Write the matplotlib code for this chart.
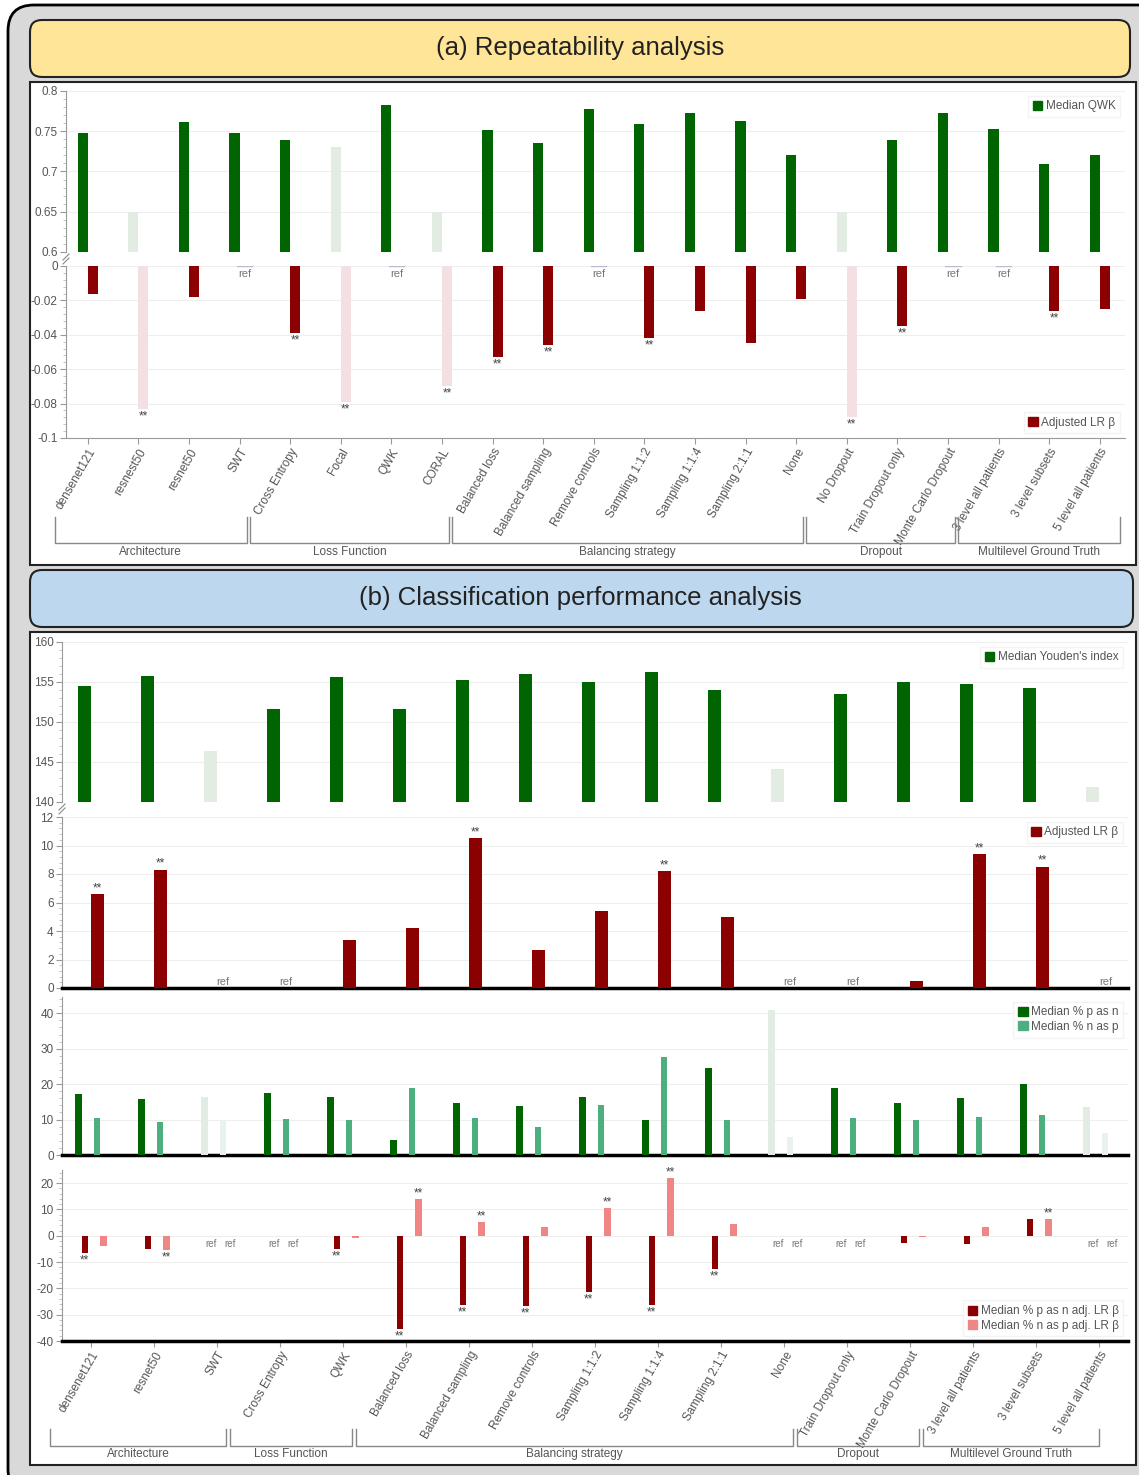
import matplotlib.pyplot as plt
from matplotlib.patches import FancyBboxPatch, Rectangle, Patch
from matplotlib.lines import Line2D
from matplotlib.ticker import AutoMinorLocator, FixedLocator, FuncFormatter
from matplotlib.transforms import IdentityTransform

plt.rcParams['font.family'] = ['Liberation Sans', 'DejaVu Sans']

W, H = 1139, 1475
GREY = '#555555'

# ---------------- (a) repeatability analysis ----------------
cats_a = ["densenet121", "resnest50", "resnet50", "SWT", "Cross Entropy", "Focal", "QWK",
          "CORAL", "Balanced loss", "Balanced sampling", "Remove controls", "Sampling 1:1:2",
          "Sampling 1:1:4", "Sampling 2:1:1", "None", "No Dropout", "Train Dropout only",
          "Monte Carlo Dropout", "3 level all patients", "3 level subsets",
          "5 level all patients"]
qwk_median = [0.748, 0.650, 0.761, 0.748, 0.739, 0.730, 0.783, 0.650, 0.752, 0.736, 0.778,
              0.759, 0.773, 0.763, 0.721, 0.650, 0.739, 0.773, 0.753, 0.709, 0.721]
qwk_beta = [-0.016, -0.083, -0.018, None, -0.039, -0.079, None, -0.070, -0.053, -0.046, None,
            -0.042, -0.026, -0.045, -0.019, -0.088, -0.035, None, None, -0.026, -0.025]
qwk_sig = [0, 1, 0, 0, 1, 1, 0, 1, 1, 1, 0, 1, 0, 0, 0, 1, 1, 0, 0, 1, 0]
faded_a = [0, 1, 0, 0, 0, 1, 0, 1, 0, 0, 0, 0, 0, 0, 0, 1, 0, 0, 0, 0, 0]
groups_a = [("Architecture", 0, 3), ("Loss Function", 4, 7), ("Balancing strategy", 8, 14),
            ("Dropout", 15, 17), ("Multilevel Ground Truth", 18, 20)]

# ---------------- (b) classification performance ----------------
cats_b = ["densenet121", "resnet50", "SWT", "Cross Entropy", "QWK", "Balanced loss",
          "Balanced sampling", "Remove controls", "Sampling 1:1:2", "Sampling 1:1:4",
          "Sampling 2:1:1", "None", "Train Dropout only", "Monte Carlo Dropout",
          "3 level all patients", "3 level subsets", "5 level all patients"]
youden = [154.5, 155.75, 146.4, 151.6, 155.6, 151.6, 155.3, 156.0, 155.0, 156.25, 154.0,
          144.1, 153.5, 155.0, 154.75, 154.25, 141.9]
youden_beta = [6.6, 8.3, None, None, 3.4, 4.2, 10.5, 2.7, 5.4, 8.2, 5.0, None, None, 0.5,
               9.4, 8.5, None]
youden_sig = [1, 1, 0, 0, 0, 0, 1, 0, 0, 1, 0, 0, 0, 0, 1, 1, 0]
faded_b = [0, 0, 1, 0, 0, 0, 0, 0, 0, 0, 0, 1, 0, 0, 0, 0, 1]
p_as_n = [17.1, 15.8, 16.5, 17.5, 16.5, 4.3, 14.6, 13.9, 16.5, 10.0, 24.5, 40.8, 19.0, 14.6,
          16.0, 20.1, 13.6]
n_as_p = [10.4, 9.4, 9.9, 10.3, 9.9, 19.0, 10.4, 7.8, 14.1, 27.6, 9.8, 5.1, 10.4, 9.8, 10.8,
          11.2, 6.3]
p_as_n_beta = [-6.7, -4.9, None, None, -4.9, -35.5, -26.5, -26.7, -21.3, -26.5, -12.8, None,
               None, -2.7, -3.2, 6.3, None]
n_as_p_beta = [-3.7, -5.4, None, None, -1.0, 13.9, 5.1, 3.2, 10.4, 21.8, 4.4, None, None,
               -0.6, 3.2, 6.3, None]
p_as_n_sig = [1, 0, 0, 0, 1, 1, 1, 1, 1, 1, 1, 0, 0, 0, 0, 0, 0]
n_as_p_sig = [0, 1, 0, 0, 0, 1, 1, 0, 1, 1, 0, 0, 0, 0, 0, 1, 0]
groups_b = [("Architecture", 0, 2), ("Loss Function", 3, 4), ("Balancing strategy", 5, 11),
            ("Dropout", 12, 13), ("Multilevel Ground Truth", 14, 16)]

DGREEN, DGREEN_F = '#006400', '#e2ece2'
LGREEN, LGREEN_F = '#4caf7d', '#e8f3ed'
DRED, DRED_F = '#8b0000', '#f4e0e2'
LRED = '#f08585'


def px_rect(l, t, r, b):
    return [l / W, 1 - b / H, (r - l) / W, (b - t) / H]


def style(ax, ticks, xlim, bottom_black=False):
    for s in ('top', 'right', 'bottom'):
        ax.spines[s].set_visible(False)
    ax.spines['left'].set_color('#999999')
    ax.spines['left'].set_linewidth(0.8)
    if bottom_black:
        ax.spines['bottom'].set_visible(True)
        ax.spines['bottom'].set_color('black')
        ax.spines['bottom'].set_linewidth(2.5)
    ax.yaxis.set_major_locator(FixedLocator(ticks))
    ax.yaxis.set_major_formatter(FuncFormatter(lambda v, p: f'{round(v, 4):g}'))
    ax.yaxis.set_minor_locator(AutoMinorLocator(5))
    ax.tick_params(axis='y', which='major', length=4, color='#999999', labelsize=8.5,
                   labelcolor=GREY, pad=2)
    ax.tick_params(axis='y', which='minor', length=2, color='#bbbbbb')
    ax.tick_params(axis='x', bottom=False, labelbottom=False)
    ax.grid(axis='y', color='#eeeeee', lw=0.8)
    ax.set_axisbelow(True)
    ax.set_xlim(*xlim)
    ax.set_facecolor('none')


def draw(ax, vals, off, width, color, pale, faded, sig, base=0.0, ref_up=False, fs=8):
    for i, v in enumerate(vals):
        x = i + off
        if v is None:
            ax.annotate('ref', (x, 0), xytext=(0, 1 if ref_up else -2),
                        textcoords='offset points', ha='center',
                        va='bottom' if ref_up else 'top', fontsize=fs, color='#777777')
            continue
        c = pale if faded[i] else color
        ax.bar(x, v - base, bottom=base, width=width, color=c, zorder=3)
        if sig[i]:
            up = v > 0 and base == 0
            ax.annotate('**', (x, v), xytext=(0, 0 if up else -1), textcoords='offset points',
                        ha='center', va='bottom' if up else 'top', fontsize=8.5,
                        color='#444444')


def legend(ax, items, loc):
    handles = [Patch(color=c, label=l) for l, c in items]
    lg = ax.legend(handles=handles, loc=loc, fontsize=8.5, frameon=True, handlelength=0.8,
                   handleheight=0.8, handletextpad=0.3, borderaxespad=0.4, labelspacing=0.2,
                   fancybox=False)
    lg.get_frame().set_edgecolor('#f0f0f0')
    for t in lg.get_texts():
        t.set_color(GREY)


def brackets(ax, groups, y0, y1, yt, right_pad):
    tr = ax.get_xaxis_transform()
    n = len(groups)
    for k, (name, a, b) in enumerate(groups):
        left = a - 0.65 if k == 0 else (a + groups[k - 1][2]) / 2 - 0.3
        right = b + right_pad if k == n - 1 else (b + groups[k + 1][1]) / 2 - 0.36
        ax.plot([left, left, right, right], [y0, y1, y1, y0], color='#888888', lw=1,
                transform=tr, clip_on=False)
        ax.text((left + right) / 2, yt, name, transform=tr, ha='center', va='center',
                fontsize=8.5, color=GREY)


def brk(fig, x, y):
    for dy in (-2, 2):
        fig.add_artist(Line2D([(x - 3) / W, (x + 3) / W],
                              [1 - (y + dy + 3) / H, 1 - (y + dy - 3) / H],
                              color='#888888', lw=0.8, zorder=5))


fig = plt.figure(figsize=(W / 100, H / 100), dpi=100)
idt = IdentityTransform()

# frame and panel boxes (pixel coordinates, origin bottom-left), kept behind the axes
fig.add_artist(FancyBboxPatch((8, -20), 1160, H - 5 + 20, boxstyle='round,pad=0,rounding_size=26',
                              fc='#d9d9d9', ec='black', lw=2, transform=idt, zorder=-3))
fig.add_artist(FancyBboxPatch((30, H - 77), 1100, 57, boxstyle='round,pad=0,rounding_size=12',
                              fc='#ffe597', ec='#222222', lw=1.5, transform=idt, zorder=-2))
fig.add_artist(Rectangle((30, H - 565), 1106, 483, fc='white', ec='#222222', lw=1.5,
                         transform=idt, zorder=-2))
fig.add_artist(FancyBboxPatch((30, H - 627), 1103, 57, boxstyle='round,pad=0,rounding_size=12',
                              fc='#bdd7ee', ec='#222222', lw=1.5, transform=idt, zorder=-2))
fig.add_artist(Rectangle((30, H - 1465), 1106, 833, fc='white', ec='#222222', lw=1.5,
                         transform=idt, zorder=-2))
fig.text(580 / W, 1 - 48 / H, '(a) Repeatability analysis', ha='center', va='center',
         fontsize=18.5, color='#222222')
fig.text(580 / W, 1 - 598 / H, '(b) Classification performance analysis', ha='center',
         va='center', fontsize=18.5, color='#222222')

# ---- panel (a)
xa = (-0.43, 20.5)
a1 = fig.add_axes(px_rect(66, 91, 1125, 252))
style(a1, [0.6, 0.65, 0.7, 0.75, 0.8], xa)
a1.set_ylim(0.6, 0.8)
draw(a1, qwk_median, -0.1, 0.2, DGREEN, DGREEN_F, faded_a, [0] * len(cats_a), base=0.6)
legend(a1, [("Median QWK", DGREEN)], 'upper right')

a2 = fig.add_axes(px_rect(66, 266, 1125, 438))
style(a2, [0, -0.02, -0.04, -0.06, -0.08, -0.1], xa)
a2.set_ylim(-0.1, 0)
draw(a2, qwk_beta, 0.1, 0.2, DRED, DRED_F, faded_a, qwk_sig)
for i, v in enumerate(qwk_beta):
    if v is None:
        a2.plot([i - 0.05, i + 0.25], [0, 0], color='#b8bccc', lw=1, zorder=3)
legend(a2, [("Adjusted LR \u03b2", DRED)], 'lower right')
a2.spines['bottom'].set_visible(True)
a2.spines['bottom'].set_color('#999999')
a2.set_xticks(range(len(cats_a)))
a2.set_xticklabels(cats_a, rotation=60, ha='right', rotation_mode='anchor')
a2.tick_params(axis='x', bottom=True, labelbottom=True, length=4, color='#999999',
               labelsize=8.5, labelcolor=GREY, pad=2)
brackets(a2, groups_a, (438 - 517) / 172, (438 - 543) / 172, (438 - 552) / 172, 0.4)
brk(fig, 66, 259)

# ---- panel (b)
xb = (-0.46, 16.46)
b1 = fig.add_axes(px_rect(62, 642, 1128, 802))
style(b1, [140, 145, 150, 155, 160], xb)
b1.set_ylim(140, 160)
draw(b1, youden, -0.1, 0.2, DGREEN, DGREEN_F, faded_b, [0] * len(cats_b), base=140)
legend(b1, [("Median Youden's index", DGREEN)], 'upper right')

b2 = fig.add_axes(px_rect(62, 817, 1128, 988))
style(b2, [0, 2, 4, 6, 8, 10, 12], xb, bottom_black=True)
b2.set_ylim(0, 12)
draw(b2, youden_beta, 0.1, 0.2, DRED, DRED_F, faded_b, youden_sig, ref_up=True)
legend(b2, [("Adjusted LR \u03b2", DRED)], 'upper right')
brk(fig, 62, 809)

b3 = fig.add_axes(px_rect(62, 997, 1128, 1155))
style(b3, [0, 10, 20, 30, 40], xb, bottom_black=True)
b3.set_ylim(0, 44.6)
draw(b3, p_as_n, -0.2, 0.1, DGREEN, DGREEN_F, faded_b, [0] * len(cats_b))
draw(b3, n_as_p, 0.1, 0.1, LGREEN, LGREEN_F, faded_b, [0] * len(cats_b))
legend(b3, [("Median % p as n", DGREEN), ("Median % n as p", LGREEN)], 'upper right')

b4 = fig.add_axes(px_rect(62, 1170, 1128, 1341))
style(b4, [-40, -30, -20, -10, 0, 10, 20], xb, bottom_black=True)
b4.set_ylim(-40, 25)
draw(b4, p_as_n_beta, -0.1, 0.1, DRED, DRED_F, faded_b, p_as_n_sig, fs=7)
draw(b4, n_as_p_beta, 0.2, 0.1, LRED, LRED, faded_b, n_as_p_sig, fs=7)
legend(b4, [("Median % p as n adj. LR \u03b2", DRED), ("Median % n as p adj. LR \u03b2", LRED)],
       'lower right')
b4.set_xticks(range(len(cats_b)))
b4.set_xticklabels(cats_b, rotation=60, ha='right', rotation_mode='anchor')
b4.tick_params(axis='x', bottom=True, labelbottom=True, length=4, color='#999999',
               labelsize=8.5, labelcolor=GREY, pad=2)
brackets(b4, groups_b, (1341 - 1429) / 171, (1341 - 1446) / 171, (1341 - 1454) / 171, 0.0)

fig.savefig('out.png', dpi=100)
